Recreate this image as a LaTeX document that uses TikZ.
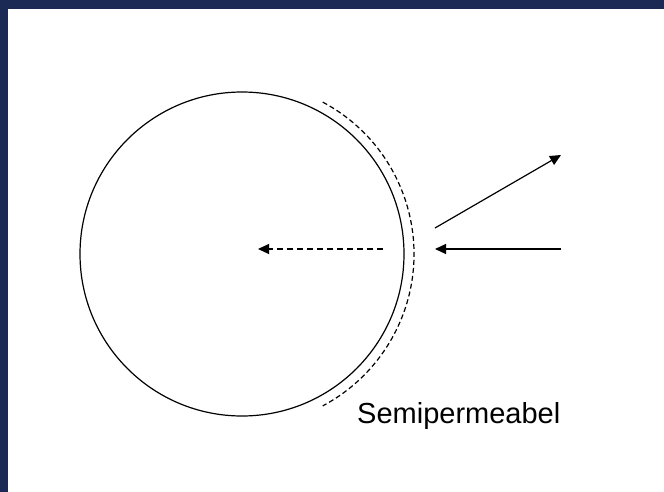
\documentclass[tikz,border=0pt]{standalone}
\usepackage{fontspec}
\setmainfont{Liberation Sans}
\usetikzlibrary{arrows.meta}
\definecolor{slidebg}{RGB}{27,42,84}

\begin{document}
\begin{tikzpicture}[x=1pt,y=-1pt,>={Triangle[length=11pt,width=10pt]}]
  \fill[slidebg] (0,0) rectangle (664,492); \fill[white] (8,9) rectangle (664,492);
  \node[draw,circle,minimum size=324pt,inner sep=0pt,line width=1.2pt] (cell) at (242,254) {};
  \draw[dash pattern=on 5pt off 3pt,line width=1.2pt] (cell.center) ++(-62:172) arc[start angle=-62,end angle=62,radius=172];
  \coordinate (inS) at (561,249); \coordinate (inE) at (435,249); \coordinate (reS) at (435,228); \coordinate (reE) at (561,155);
  \coordinate (thS) at (383,249); \coordinate (thE) at (258,249);
  \draw[->,line width=1.2pt] (inS) -- (inE); \draw[->,line width=1.2pt] (reS) -- (reE);
  \draw[->,dash pattern=on 6pt off 4pt,line width=1.2pt] (thS) -- (thE);
  \node[anchor=base west,inner sep=0pt,font=\fontsize{29}{34}\selectfont] (membrane) at (357,423) {Semipermeabel};
\end{tikzpicture}
\end{document}
